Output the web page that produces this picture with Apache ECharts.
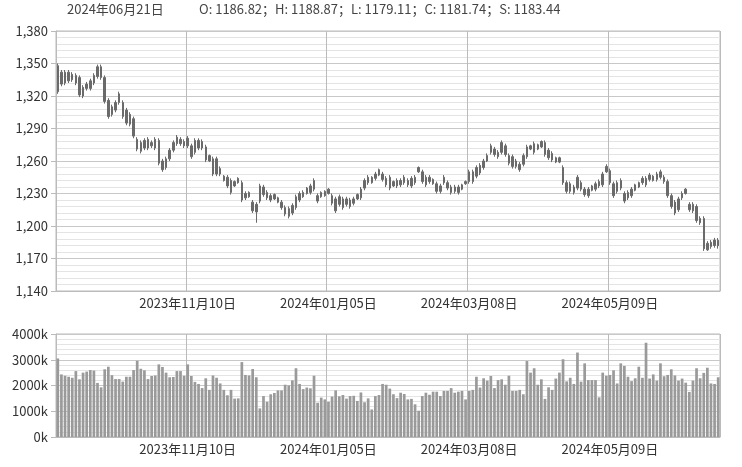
<!DOCTYPE html>
<html><head><meta charset="utf-8">
<script src="https://cdn.jsdelivr.net/npm/echarts@6/dist/echarts.min.js"></script>
<style>html,body{margin:0;padding:0;background:#fff}#c{width:742px;height:467px}</style>
</head><body><div id="c"></div>
<script>
const dates = [
'2023-09-13','2023-09-14','2023-09-15','2023-09-18','2023-09-19','2023-09-20','2023-09-21','2023-09-22','2023-09-25','2023-09-26','2023-09-27','2023-09-28',
'2023-10-09','2023-10-10','2023-10-11','2023-10-12','2023-10-13','2023-10-16','2023-10-17','2023-10-18','2023-10-19','2023-10-20','2023-10-23','2023-10-24','2023-10-25','2023-10-26','2023-10-27','2023-10-30','2023-10-31',
'2023-11-01','2023-11-02','2023-11-03','2023-11-06','2023-11-07','2023-11-08','2023-11-09','2023-11-10','2023-11-13','2023-11-14','2023-11-15','2023-11-16','2023-11-17','2023-11-20','2023-11-21','2023-11-22','2023-11-23','2023-11-24','2023-11-27','2023-11-28','2023-11-29','2023-11-30',
'2023-12-01','2023-12-04','2023-12-05','2023-12-06','2023-12-07','2023-12-08','2023-12-11','2023-12-12','2023-12-13','2023-12-14','2023-12-15','2023-12-18','2023-12-19','2023-12-20','2023-12-21','2023-12-22','2023-12-25','2023-12-26','2023-12-27','2023-12-28','2023-12-29',
'2024-01-02','2024-01-03','2024-01-04','2024-01-05','2024-01-08','2024-01-09','2024-01-10','2024-01-11','2024-01-12','2024-01-15','2024-01-16','2024-01-17','2024-01-18','2024-01-19','2024-01-22','2024-01-23','2024-01-24','2024-01-25','2024-01-26','2024-01-29','2024-01-30','2024-01-31',
'2024-02-01','2024-02-02','2024-02-05','2024-02-06','2024-02-07','2024-02-08','2024-02-19','2024-02-20','2024-02-21','2024-02-22','2024-02-23','2024-02-26','2024-02-27','2024-02-28','2024-02-29',
'2024-03-01','2024-03-04','2024-03-05','2024-03-06','2024-03-07','2024-03-08','2024-03-11','2024-03-12','2024-03-13','2024-03-14','2024-03-15','2024-03-18','2024-03-19','2024-03-20','2024-03-21','2024-03-22','2024-03-25','2024-03-26','2024-03-27','2024-03-28','2024-03-29',
'2024-04-01','2024-04-02','2024-04-03','2024-04-08','2024-04-09','2024-04-10','2024-04-11','2024-04-12','2024-04-15','2024-04-16','2024-04-17','2024-04-18','2024-04-19','2024-04-22','2024-04-23','2024-04-24','2024-04-25','2024-04-26','2024-04-29','2024-04-30',
'2024-05-06','2024-05-07','2024-05-08','2024-05-09','2024-05-10','2024-05-13','2024-05-14','2024-05-15','2024-05-16','2024-05-17','2024-05-20','2024-05-21','2024-05-22','2024-05-23','2024-05-24','2024-05-27','2024-05-28','2024-05-29','2024-05-30','2024-05-31',
'2024-06-03','2024-06-04','2024-06-05','2024-06-06','2024-06-07','2024-06-11','2024-06-12','2024-06-13','2024-06-14','2024-06-17','2024-06-18','2024-06-19','2024-06-20','2024-06-21'
];
const highs = [
1350,1344,1344,1344,1342,1341,1339,1330,1333,1336,1341,1349,1349,1339,1318,1312,1316,1324,1316,1309,
1305,1301,1282,1279,1281,1282,1279,1282,1281,1262,1264,1272,1279,1284,1282,1280,1283,1276,1281,1281,
1280,1275,1266,1264,1264,1255,1247,1247,1244,1242,1245,1242,1232,1232,1224,1222,1239,1238,1233,1230,
1230,1227,1224,1219,1218,1221,1229,1232,1233,1236,1239,1244,1230,1232,1233,1235,1230,1227,1229,1227,
1227,1226,1227,1230,1236,1244,1247,1246,1250,1253,1250,1246,1247,1242,1244,1244,1247,1244,1246,1247,
1255,1252,1247,1247,1244,1241,1239,1247,1242,1238,1238,1238,1239,1242,1252,1252,1256,1258,1262,1267,
1276,1273,1270,1279,1276,1267,1266,1262,1259,1267,1275,1275,1278,1276,1279,1279,1272,1269,1264,1264,
1256,1242,1241,1238,1247,1242,1236,1236,1238,1241,1243,1250,1257,1253,1241,1242,1244,1232,1233,1236,
1239,1241,1246,1246,1249,1247,1250,1252,1247,1243,1230,1224,1227,1232,1235,1222,1222,1220,1209,1209,
1186,1187,1189,1188.87
];
const lows = [
1322,1329,1330,1332,1333,1330,1319,1318,1325,1325,1330,1336,1335,1313,1299,1301,1305,1312,1299,1293,
1292,1281,1269,1267,1270,1270,1272,1270,1256,1250,1252,1260,1268,1274,1274,1272,1272,1262,1266,1270,
1270,1259,1259,1246,1246,1246,1241,1235,1229,1236,1239,1222,1224,1226,1212,1203,1221,1227,1224,1222,
1224,1221,1215,1209,1207,1210,1215,1222,1226,1229,1229,1232,1221,1226,1227,1229,1219,1212,1218,1215,
1218,1216,1219,1224,1224,1233,1238,1239,1242,1246,1241,1236,1233,1236,1235,1236,1238,1236,1235,1238,
1249,1239,1236,1239,1238,1230,1230,1238,1233,1229,1230,1229,1233,1238,1239,1239,1244,1247,1252,1259,
1266,1264,1262,1266,1264,1256,1253,1253,1250,1255,1262,1270,1266,1270,1272,1264,1261,1259,1258,1258,
1238,1230,1230,1229,1233,1232,1227,1226,1232,1232,1235,1236,1249,1238,1226,1230,1233,1221,1224,1226,
1232,1235,1238,1236,1241,1241,1241,1243,1239,1226,1216,1210,1213,1224,1229,1213,1212,1203,1201,1177,
1177,1179,1180,1179.11
];
const opens = [
1324,1342,1332,1342,1335,1339,1337,1320,1327,1327,1332,1338,1347,1337,1316,1303,1307,1314,1314,1307,
1303,1299,1280,1269,1272,1280,1274,1272,1279,1260,1254,1262,1270,1276,1280,1278,1274,1274,1268,1279,
1272,1273,1265,1262,1248,1253,1246,1245,1242,1237,1244,1240,1226,1231,1222,1213,1223,1236,1231,1228,
1225,1226,1222,1217,1209,1212,1217,1224,1227,1230,1231,1234,1228,1227,1228,1234,1228,1225,1220,1225,
1220,1224,1221,1225,1226,1235,1240,1245,1244,1247,1248,1244,1245,1237,1237,1242,1240,1242,1237,1240,
1250,1250,1245,1241,1243,1239,1232,1240,1240,1236,1232,1236,1234,1239,1241,1250,1246,1249,1254,1260,
1268,1271,1268,1268,1274,1265,1264,1255,1257,1257,1264,1274,1268,1275,1273,1277,1270,1267,1259,1263,
1254,1240,1232,1236,1235,1240,1234,1228,1233,1234,1237,1238,1250,1251,1239,1232,1242,1230,1226,1228,
1233,1236,1240,1244,1243,1246,1243,1245,1245,1241,1228,1222,1215,1226,1230,1220,1220,1218,1207,1207,
1178,1181,1182,1186.82
];
const closes = [
1348,1331,1342,1334,1340,1332,1321,1328,1331,1334,1339,1347,1337,1315,1301,1310,1314,1322,1301,1295,
1294,1283,1271,1277,1279,1272,1277,1280,1258,1252,1262,1270,1277,1282,1276,1274,1281,1264,1279,1272,
1278,1261,1260,1248,1262,1248,1242,1237,1231,1241,1240,1224,1230,1227,1214,1220,1237,1229,1226,1224,
1229,1222,1217,1211,1216,1219,1227,1230,1231,1235,1237,1242,1223,1231,1232,1230,1221,1214,1227,1217,
1225,1218,1225,1229,1234,1242,1245,1240,1248,1252,1243,1238,1235,1241,1242,1238,1245,1238,1244,1245,
1254,1241,1238,1245,1239,1232,1237,1245,1235,1231,1236,1231,1238,1241,1250,1241,1254,1256,1260,1265,
1274,1266,1264,1277,1266,1258,1255,1260,1252,1265,1273,1271,1276,1271,1278,1266,1263,1261,1263,1259,
1240,1232,1239,1231,1245,1234,1229,1234,1237,1239,1241,1248,1255,1240,1228,1240,1235,1223,1231,1234,
1238,1240,1244,1238,1247,1242,1248,1250,1241,1228,1218,1212,1225,1230,1234,1215,1214,1205,1203,1179,
1184,1185,1187,1181.74
];
const volumes = [
3050,2430,2380,2340,2300,2560,2240,2500,2540,2600,2580,2100,1930,2630,2730,2400,2250,2250,2150,2340,
2340,2600,2960,2650,2590,2250,2370,2390,2820,2720,2500,2320,2330,2560,2560,2380,2820,2370,2140,2060,
1900,2280,1830,2390,2300,2080,1830,1620,1830,1490,1500,2910,2410,2390,2640,2320,1110,1590,1370,1660,
1710,1810,1810,2030,2000,2200,2670,2060,1860,1920,1890,2380,1330,1530,1460,1370,1570,1810,1580,1630,
1490,1590,1600,1400,1730,1350,1500,1070,1590,1630,2060,2030,1880,1660,1510,1720,1670,1460,1480,1270,
1020,1590,1720,1640,1760,1760,1590,1790,1790,1900,1720,1760,1790,1460,1790,1830,2340,1920,2280,2190,
2370,1900,2210,2240,2030,2380,1790,1790,1830,1660,2950,2500,2670,2030,2240,1480,1930,1830,2270,2500,
3020,2160,2300,2060,3280,2150,2860,2210,2210,2210,1540,2500,2380,2410,2590,2080,2860,2760,2340,2170,
2280,2730,2300,3660,2270,2430,2190,2860,2360,2410,2630,2390,2190,2270,2110,1750,2190,2670,2280,2490,
2690,2080,2060,2320
];
const settle = 1183.44;
const firstLabelIndex = 36;
const labelStep = 39;

const n = dates.length;
const last = n - 1;
const fontFam = "'Microsoft YaHei','Noto Sans CJK SC',sans-serif";
const fmtDate = d => { const p = d.split('-'); return p[0] + '年' + p[1] + '月' + p[2] + '日'; };
const showIdx = (idx) => idx >= firstLabelIndex && (idx - firstLabelIndex) % labelStep === 0;
const fmt2 = v => v.toFixed(2);

const chart = echarts.init(document.getElementById('c'), null, {renderer: 'canvas'});
const candle = dates.map((d, i) => [opens[i], closes[i], lows[i], highs[i]]);

const xAxisBase = (gridIndex) => ({
  type: 'category', gridIndex, data: dates, boundaryGap: true,
  axisLine: {show: true, lineStyle: {color: '#bbb'}},
  axisTick: {show: false, interval: showIdx},
  axisLabel: {interval: showIdx, formatter: fmtDate, color: '#333', fontSize: 13, fontFamily: fontFam, margin: 6},
  splitLine: {show: true, interval: showIdx, lineStyle: {color: '#bbb', width: 1}}
});
const yAxisBase = (gridIndex) => ({
  type: 'value', gridIndex, scale: false,
  axisLine: {show: true, lineStyle: {color: '#bbb'}},
  axisTick: {show: true, length: 5, lineStyle: {color: '#bbb'}},
  splitLine: {show: true, lineStyle: {color: '#c8c8c8'}},
  minorTick: {show: false, splitNumber: 5},
  minorSplitLine: {show: true, lineStyle: {color: '#e4e4e4'}}
});

const option = {
  animation: false,
  backgroundColor: '#fff',
  graphic: [
    {type: 'text', left: 67, top: 3, style: {text: fmtDate(dates[last]), font: '13px ' + fontFam, fill: '#444'}},
    {type: 'text', left: 199, top: 3, style: {text: 'O: ' + fmt2(opens[last]) + '；H: ' + fmt2(highs[last]) + '；L: ' + fmt2(lows[last]) + '；C: ' + fmt2(closes[last]) + '；S: ' + fmt2(settle), font: '13px ' + fontFam, fill: '#444'}}
  ],
  grid: [
    {left: 56, right: 22, top: 31, height: 260, show: true, borderColor: '#bbb', borderWidth: 1},
    {left: 56, right: 22, top: 334, height: 103, show: true, borderColor: '#bbb', borderWidth: 1}
  ],
  xAxis: [xAxisBase(0), xAxisBase(1)],
  yAxis: [
    Object.assign(yAxisBase(0), {min: 1140, max: 1380, interval: 30,
      axisLabel: {color: '#333', fontSize: 13, fontFamily: fontFam, margin: 8, formatter: v => v.toLocaleString('en-US')}}),
    Object.assign(yAxisBase(1), {min: 0, max: 4000, interval: 1000,
      axisLabel: {color: '#333', fontSize: 13, fontFamily: fontFam, margin: 8, formatter: v => String(v) + 'k'}})
  ],
  series: [
    {type: 'candlestick', xAxisIndex: 0, yAxisIndex: 0, data: candle, barWidth: 2,
      itemStyle: {color: '#6a6a6a', color0: '#6a6a6a', borderColor: '#6a6a6a', borderColor0: '#6a6a6a', borderWidth: 1}},
    {type: 'bar', xAxisIndex: 1, yAxisIndex: 1, data: volumes, barCategoryGap: '25%',
      itemStyle: {color: '#9a9a9a', borderColor: '#8a8a8a', borderWidth: 0}}
  ]
};
chart.setOption(option);
</script>
</body></html>
